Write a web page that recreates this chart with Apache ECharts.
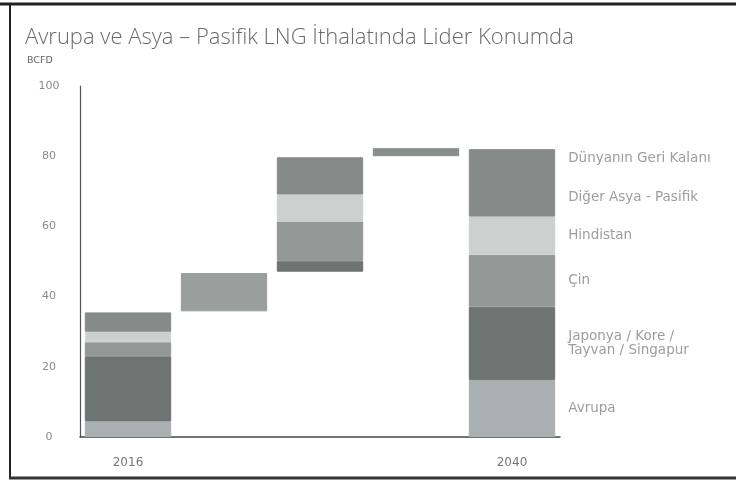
<!DOCTYPE html>
<html><head><meta charset="utf-8">
<script src="https://cdn.jsdelivr.net/npm/echarts@6/dist/echarts.min.js"></script>
<style>html,body{margin:0;padding:0;background:#fff}#c{width:736px;height:482px}</style>
</head><body><div id="c"></div>
<script>
// Categories (waterfall steps) and tick labels
const categories = ['2016', 'Artış 1', 'Artış 2', 'Artış 3', '2040'];
const xTickLabels = ['2016', '', '', '', '2040'];
const yTicks = [0, 20, 40, 60, 80, 100];

// Invisible base of floating bars
const baseValues = [0, 35.8, 47.1, 80, 0];
// Segment values (BCFD)
const avrupa   = [4.4, 10.9, 0, 0, 16.2];
const japonya  = [18.6, 0, 3.0, 0, 20.9];
const cin      = [4.0, 0, 11.3, 0, 14.8];
const hindistan= [3.0, 0, 7.7, 0, 10.9];
const digerAP  = [5.5, 0, 10.6, 0, 13.2];
const dunya    = [0, 0, 0, 2.3, 6.0];

// The top block (Diğer Asya - Pasifik + Dünyanın Geri Kalanı) is drawn in one shade
const topBlock = digerAP.map((v, i) => +(v + dunya[i]).toFixed(1));

const seriesNames = ['Avrupa', 'Japonya / Kore /\nTayvan / Singapur', 'Çin', 'Hindistan', 'Dünyanın Geri Kalanı\n\n\nDiğer Asya - Pasifik'];
const seriesValues = [avrupa, japonya, cin, hindistan, topBlock];
const seriesColors = ['#aab0b1', '#6d7471', '#939897', '#cdd0cf', '#868b8a'];
const labelOffsets = [0, 0, 0, 0, -5];
const labelLineHeights = [14, 14, 14, 14, 13];

const chart = echarts.init(document.getElementById('c'));

const series = [{
  name: 'base', type: 'bar', stack: 'w', barCategoryGap: '10%',
  itemStyle: { color: 'transparent' }, silent: true, data: baseValues
}];
seriesValues.forEach((vals, s) => {
  series.push({
    name: seriesNames[s], type: 'bar', stack: 'w', barCategoryGap: '10%',
    itemStyle: { color: seriesColors[s], borderColor: seriesColors[s], borderWidth: 1 },
    data: vals.map((v, i) => {
      if (v === 0) return '-';
      const item = { value: v };
      if (i === 1 && s === 0) item.itemStyle = { color: '#9a9e9d', borderColor: '#9a9e9d' };
      if (i === 3 && s === 4) item.itemStyle = { color: '#8b8e8e', borderColor: '#8b8e8e' };
      if (i === 4) item.label = {
        show: true, position: 'right', distance: 13, offset: [0, labelOffsets[s]],
        formatter: seriesNames[s], color: '#9d9d9d', fontSize: 13.5,
        fontFamily: 'DejaVu Sans', lineHeight: labelLineHeights[s], align: 'left'
      };
      return item;
    })
  });
});

chart.setOption({
  animation: false,
  backgroundColor: '#fff',
  title: [{
    text: 'Avrupa ve Asya – Pasifik LNG İthalatında Lider Konumda',
    left: 20, top: 22,
    textStyle: { fontFamily: 'Open Sans', fontWeight: 300, fontSize: 22, color: '#6a6a6a' }
  }, {
    text: 'BCFD', left: 22, top: 51,
    textStyle: { fontFamily: 'DejaVu Sans', fontWeight: 'normal', fontSize: 9.5, color: '#666' }
  }],
  grid: { left: 80, right: 176, top: 86, bottom: 45, containLabel: false },
  xAxis: {
    type: 'category', data: categories,
    axisLine: { lineStyle: { color: '#444', width: 1.5 } },
    axisTick: { show: false },
    axisLabel: {
      interval: 0, margin: 20, color: '#777', fontSize: 12, fontFamily: 'DejaVu Sans',
      formatter: (v, i) => xTickLabels[i]
    }
  },
  yAxis: {
    type: 'value', min: yTicks[0], max: yTicks[yTicks.length - 1], interval: 20,
    axisLine: { show: true, lineStyle: { color: '#555', width: 1.2 } },
    axisTick: { show: false },
    splitLine: { show: false },
    axisLabel: { margin: 31, align: 'center', color: '#8a8a8a', fontSize: 11, fontFamily: 'DejaVu Sans' }
  },
  graphic: [
    { type: 'line', shape: { x1: 0, y1: 4, x2: 736, y2: 4 }, style: { stroke: '#222', lineWidth: 3 } },
    { type: 'line', shape: { x1: 10, y1: 3, x2: 10, y2: 479 }, style: { stroke: '#222', lineWidth: 2 } },
    { type: 'line', shape: { x1: 9, y1: 478, x2: 736, y2: 478 }, style: { stroke: '#333', lineWidth: 3 } }
  ],
  series: series
});
</script></body></html>
